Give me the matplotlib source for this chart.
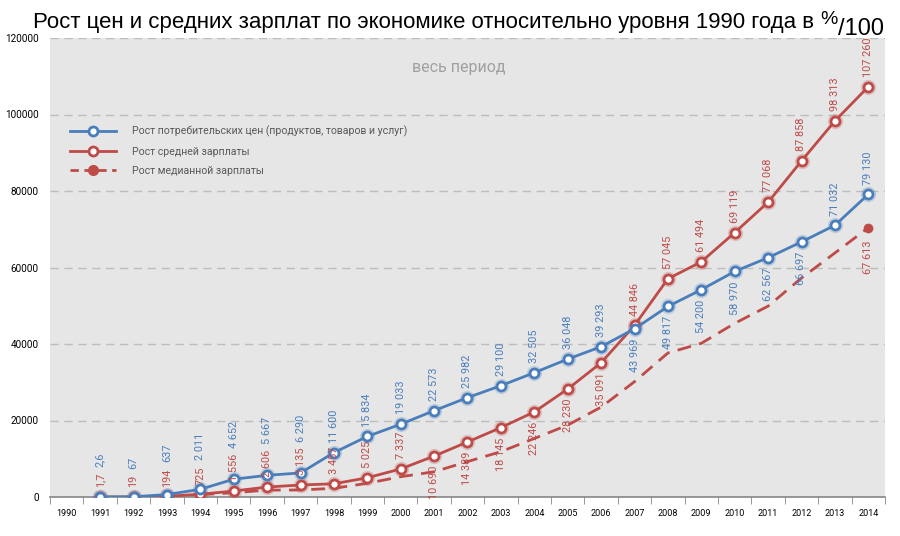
import matplotlib
matplotlib.use("Agg")
import matplotlib.pyplot as plt
from matplotlib.lines import Line2D

# данные
years = list(range(1990, 2015))
price_years = list(range(1991, 2015))
prices = [2.6, 67, 637, 2011, 4652, 5667, 6290, 11600, 15834, 19033, 22573, 25982,
          29100, 32505, 36048, 39293, 43969, 49817, 54200, 58970, 62567, 66697, 71032, 79130]
wage_years = list(range(1991, 2015))
wages = [1.7, 19, 194, 725, 1556, 2606, 3135, 3457, 5025, 7337, 10690, 14389,
         18145, 22246, 28230, 35091, 44846, 57045, 61494, 69119, 77068, 87858, 98313, 107260]
median_years = list(range(1994, 2015))
median = [600, 1120, 1800, 1830, 2270, 3580, 5300, 6600, 9250, 11850, 15300, 18800,
          23500, 30150, 37650, 40180, 45400, 49900, 57250, 63800, 70400]
median_last_label = "67 613"

price_below = [2007, 2008, 2009, 2010, 2011, 2012]
wage_below = [2001, 2002, 2003, 2004, 2005, 2006]
stack_years = [1991, 1992, 1993, 1994, 1995, 1996, 1997]

legend_labels = ["Рост потребительских цен (продуктов, товаров и услуг)",
                 "Рост средней зарплаты",
                 "Рост медианной зарплаты"]

BLUE = "#4A7EBB"
RED = "#BE4B48"
BG = "#E6E6E6"
FONT = ["Roboto", "DejaVu Sans"]
TFONT = ["Liberation Sans", "DejaVu Sans"]


def fmt(v):
    if v < 10:
        return f"{v:.1f}".replace(".", ",")
    return f"{int(round(v)):,}".replace(",", " ")


def xi(y):
    return y - years[0]


fig = plt.figure(figsize=(9, 5.36), dpi=100)
ax = fig.add_axes([50 / 900, 1 - 497 / 536, 835 / 900, 459 / 536])
ax.set_facecolor(BG)

ax.set_xlim(-0.5, len(years) - 0.5)
ax.set_ylim(0, 120000)
ax.set_yticks(range(0, 120001, 20000))
ax.set_yticklabels([str(t) for t in range(0, 120001, 20000)], fontsize=7.2, family=FONT)
ax.tick_params(axis="y", length=0, pad=8)
ax.set_xticks(range(len(years)))
ax.set_xticklabels([str(y) for y in years], fontsize=6.5, family=FONT)
ax.set_xticks([i - 0.5 for i in range(len(years) + 1)], minor=True)
ax.tick_params(axis="x", which="major", length=0, pad=9)
ax.tick_params(axis="x", which="minor", length=5, color="#868686", direction="out")
ax.grid(axis="y", color="#BDBDBD", linestyle=(0, (6, 4)), linewidth=1)
ax.set_axisbelow(True)
for s in ["top", "right", "left"]:
    ax.spines[s].set_visible(False)
ax.spines["bottom"].set_color("#868686")
ax.spines["bottom"].set_linewidth(1.2)

px = [xi(y) for y in price_years]
wx = [xi(y) for y in wage_years]
mx = [xi(y) for y in median_years]

# мягкое свечение маркеров
ax.plot(px, prices, "o", ms=11, color=BLUE, alpha=0.25, mec="none", zorder=3)
ax.plot(wx, wages, "o", ms=11, color=RED, alpha=0.25, mec="none", zorder=3)

ax.plot(mx, median, color=RED, lw=2, ls=(0, (5, 3)), zorder=3)
ax.plot(mx[-1:], median[-1:], "o", ms=6, color=RED, zorder=4)
ax.plot(wx, wages, color=RED, lw=2, marker="o", ms=6.5, mfc="white", mec=RED, mew=2, zorder=4)
ax.plot(px, prices, color=BLUE, lw=2, marker="o", ms=6.5, mfc="white", mec=BLUE, mew=2, zorder=5)

lab_kw = dict(rotation=90, ha="center", fontsize=7.8, family=FONT, textcoords="offset points",
              zorder=6)

red_ann = {}
for y, v in zip(wage_years, wages):
    if y in wage_below:
        a = ax.annotate(fmt(v), (xi(y), v), xytext=(0, -7), va="top", color=RED, **lab_kw)
    else:
        a = ax.annotate(fmt(v), (xi(y), v), xytext=(0, 7), va="bottom", color=RED, **lab_kw)
    red_ann[y] = a

blue_ann = {}
for y, v in zip(price_years, prices):
    if y in price_below:
        a = ax.annotate(fmt(v), (xi(y), v), xytext=(0, -7), va="top", color=BLUE, **lab_kw)
    else:
        a = ax.annotate(fmt(v), (xi(y), v), xytext=(0, 7), va="bottom", color=BLUE, **lab_kw)
    blue_ann[y] = a

ax.annotate(median_last_label, (mx[-1], median[-1]), xytext=(0, -9), va="top", color=RED, **lab_kw)

# подписи цен поднимаем над подписями зарплат там, где они налезают
fig.canvas.draw()
r = fig.canvas.get_renderer()
for y in stack_years:
    top = red_ann[y].get_window_extent(r).y1
    v = prices[price_years.index(y)]
    base = ax.transData.transform((xi(y), v))[1]
    want = max(base + 7 * fig.dpi / 72, top + 6)
    blue_ann[y].xyann = (0, (want - base) * 72 / fig.dpi)

handles = [
    Line2D([], [], color=BLUE, lw=2, marker="o", ms=6.5, mfc="white", mec=BLUE, mew=2),
    Line2D([], [], color=RED, lw=2, marker="o", ms=6.5, mfc="white", mec=RED, mew=2),
    Line2D([], [], color=RED, lw=2, ls=(0, (3, 2)), marker="o", ms=7, mfc=RED, mec=RED),
]
leg = ax.legend(handles, legend_labels, loc="upper left", bbox_to_anchor=(0.012, 0.83),
                frameon=False, prop={"family": FONT, "size": 7.6}, handlelength=4.4,
                labelspacing=0.9, handletextpad=1.5)
for t in leg.get_texts():
    t.set_color("#595959")

ax.text(0.49, 0.935, "весь период", transform=ax.transAxes, ha="center", va="center",
        fontsize=11.5, color="#A0A0A0", family=FONT)

# заголовок: подбираем размер шрифта под ширину
title = fig.text(33 / 900, 1 - 28 / 536,
                 "Рост цен и средних зарплат по экономике относительно уровня 1990 года в ",
                 fontsize=17, va="baseline", ha="left", family=TFONT)
fig.canvas.draw()
w = title.get_window_extent(r).width
title.set_fontsize(17 * 790 / w)
fig.canvas.draw()
tb = title.get_window_extent(r)
pct = fig.text(tb.x1 / 900, 1 - 24 / 536, "%", fontsize=14, va="baseline", ha="left", family=TFONT)
fig.canvas.draw()
pb = pct.get_window_extent(r)
fig.text(pb.x1 / 900, 1 - 35 / 536, "/100", fontsize=17, va="baseline", ha="left", family=TFONT)

fig.savefig("out.png", dpi=100)
